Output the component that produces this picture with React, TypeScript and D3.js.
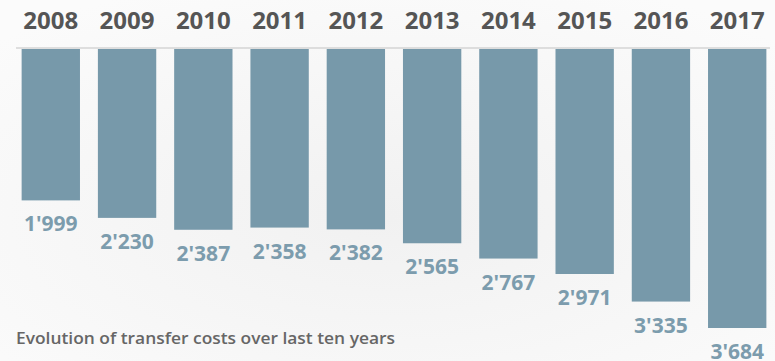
import React from "react";
import * as d3 from "d3";

const years = ["2008", "2009", "2010", "2011", "2012", "2013", "2014", "2015", "2016", "2017"];
const costs = [1999, 2230, 2387, 2358, 2382, 2565, 2767, 2971, 3335, 3684];
const caption = "Evolution of transfer costs over last ten years";

const W = 775;
const H = 361;

export default function App() {
  const x = d3.scaleBand<string>().domain(years).range([14, 774]).paddingInner(0.235).paddingOuter(0.1);
  const y = d3.scaleLinear().domain([0, 3684]).range([49, 328]);
  const fmt = (v: number) => d3.format(",")(v).replace(/,/g, "'");
  return (
    <svg width={W} height={H} style={{ position: "absolute", left: 0, top: 0, background: "#f6f6f6" }}>
      <defs>
        <radialGradient id="bg" cx="0.5" cy="0.6" r="0.7">
          <stop offset="0" stopColor="#f1f1f1" />
          <stop offset="1" stopColor="#fbfbfb" />
        </radialGradient>
      </defs>
      <rect width={W} height={H} fill="url(#bg)" />
      <line x1={16} x2={770} y1={48} y2={48} stroke="#d4d4d4" strokeWidth={1.5} />
      {years.map((yr, i) => (
        <g key={yr}>
          <text
            x={x(yr)! + x.bandwidth() / 2}
            y={29}
            textAnchor="middle"
            fontFamily="'Open Sans', sans-serif"
            fontWeight={700}
            fontSize={24}
            fill="#555555"
          >
            {yr}
          </text>
          <rect x={x(yr)!} y={y(0)} width={x.bandwidth()} height={y(costs[i]) - y(0)} fill="#7799aa" />
          <text
            x={x(yr)! + x.bandwidth() / 2}
            y={y(costs[i]) + 31}
            textAnchor="middle"
            fontFamily="'Open Sans', sans-serif"
            fontWeight={700}
            fontSize={21}
            fill="#7c9cad"
          >
            {fmt(costs[i])}
          </text>
        </g>
      ))}
      <text
        x={16}
        y={344}
        fontFamily="'Open Sans', sans-serif"
        fontWeight={600}
        fontSize={17}
        fill="#666666"
        textLength={379}
        lengthAdjust="spacingAndGlyphs"
      >
        {caption}
      </text>
    </svg>
  );
}
